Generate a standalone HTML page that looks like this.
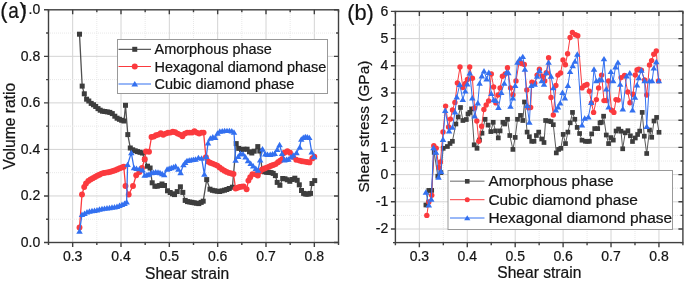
<!DOCTYPE html>
<html><head><meta charset="utf-8"><style>
html,body{margin:0;padding:0;background:#fff;overflow:hidden}
svg{display:block;will-change:transform;filter:blur(0.3px)}
text{font-family:"Liberation Sans", sans-serif;fill:#141414;stroke:#141414;stroke-width:0.22px}
</style></head><body>
<svg width="685" height="281" viewBox="0 0 685 281">
<rect width="685" height="281" fill="#fff"/>
<line x1="72.67" y1="9.8" x2="72.67" y2="242.5" stroke="#d4d4d4" stroke-width="1"/>
<line x1="121.00" y1="9.8" x2="121.00" y2="242.5" stroke="#d4d4d4" stroke-width="1"/>
<line x1="169.33" y1="9.8" x2="169.33" y2="242.5" stroke="#d4d4d4" stroke-width="1"/>
<line x1="217.67" y1="9.8" x2="217.67" y2="242.5" stroke="#d4d4d4" stroke-width="1"/>
<line x1="266.00" y1="9.8" x2="266.00" y2="242.5" stroke="#d4d4d4" stroke-width="1"/>
<line x1="314.33" y1="9.8" x2="314.33" y2="242.5" stroke="#d4d4d4" stroke-width="1"/>
<line x1="96.83" y1="9" x2="96.83" y2="242.5" stroke="#e8e8e8" stroke-width="1" stroke-dasharray="1 1"/>
<line x1="145.17" y1="9" x2="145.17" y2="242.5" stroke="#e8e8e8" stroke-width="1" stroke-dasharray="1 1"/>
<line x1="193.50" y1="9" x2="193.50" y2="242.5" stroke="#e8e8e8" stroke-width="1" stroke-dasharray="1 1"/>
<line x1="241.83" y1="9" x2="241.83" y2="242.5" stroke="#e8e8e8" stroke-width="1" stroke-dasharray="1 1"/>
<line x1="290.17" y1="9" x2="290.17" y2="242.5" stroke="#e8e8e8" stroke-width="1" stroke-dasharray="1 1"/>
<line x1="48.5" y1="195.96" x2="338.5" y2="195.96" stroke="#d4d4d4" stroke-width="1"/>
<line x1="48.5" y1="149.42" x2="338.5" y2="149.42" stroke="#d4d4d4" stroke-width="1"/>
<line x1="48.5" y1="102.88" x2="338.5" y2="102.88" stroke="#d4d4d4" stroke-width="1"/>
<line x1="48.5" y1="56.34" x2="338.5" y2="56.34" stroke="#d4d4d4" stroke-width="1"/>
<line x1="48" y1="219.23" x2="338.5" y2="219.23" stroke="#e8e8e8" stroke-width="1" stroke-dasharray="1 1"/>
<line x1="48" y1="172.69" x2="338.5" y2="172.69" stroke="#e8e8e8" stroke-width="1" stroke-dasharray="1 1"/>
<line x1="48" y1="126.15" x2="338.5" y2="126.15" stroke="#e8e8e8" stroke-width="1" stroke-dasharray="1 1"/>
<line x1="48" y1="79.61" x2="338.5" y2="79.61" stroke="#e8e8e8" stroke-width="1" stroke-dasharray="1 1"/>
<line x1="48" y1="33.07" x2="338.5" y2="33.07" stroke="#e8e8e8" stroke-width="1" stroke-dasharray="1 1"/>
<line x1="419.36" y1="11.4" x2="419.36" y2="242.6" stroke="#d4d4d4" stroke-width="1"/>
<line x1="467.27" y1="11.4" x2="467.27" y2="242.6" stroke="#d4d4d4" stroke-width="1"/>
<line x1="515.19" y1="11.4" x2="515.19" y2="242.6" stroke="#d4d4d4" stroke-width="1"/>
<line x1="563.11" y1="11.4" x2="563.11" y2="242.6" stroke="#d4d4d4" stroke-width="1"/>
<line x1="611.02" y1="11.4" x2="611.02" y2="242.6" stroke="#d4d4d4" stroke-width="1"/>
<line x1="658.94" y1="11.4" x2="658.94" y2="242.6" stroke="#d4d4d4" stroke-width="1"/>
<line x1="443.32" y1="11" x2="443.32" y2="242.6" stroke="#e8e8e8" stroke-width="1" stroke-dasharray="1 1"/>
<line x1="491.23" y1="11" x2="491.23" y2="242.6" stroke="#e8e8e8" stroke-width="1" stroke-dasharray="1 1"/>
<line x1="539.15" y1="11" x2="539.15" y2="242.6" stroke="#e8e8e8" stroke-width="1" stroke-dasharray="1 1"/>
<line x1="587.07" y1="11" x2="587.07" y2="242.6" stroke="#e8e8e8" stroke-width="1" stroke-dasharray="1 1"/>
<line x1="634.98" y1="11" x2="634.98" y2="242.6" stroke="#e8e8e8" stroke-width="1" stroke-dasharray="1 1"/>
<line x1="395.4" y1="229.00" x2="682.9" y2="229.00" stroke="#d4d4d4" stroke-width="1"/>
<line x1="395.4" y1="201.80" x2="682.9" y2="201.80" stroke="#d4d4d4" stroke-width="1"/>
<line x1="395.4" y1="174.60" x2="682.9" y2="174.60" stroke="#d4d4d4" stroke-width="1"/>
<line x1="395.4" y1="147.40" x2="682.9" y2="147.40" stroke="#d4d4d4" stroke-width="1"/>
<line x1="395.4" y1="120.20" x2="682.9" y2="120.20" stroke="#d4d4d4" stroke-width="1"/>
<line x1="395.4" y1="93.00" x2="682.9" y2="93.00" stroke="#d4d4d4" stroke-width="1"/>
<line x1="395.4" y1="65.80" x2="682.9" y2="65.80" stroke="#d4d4d4" stroke-width="1"/>
<line x1="395.4" y1="38.60" x2="682.9" y2="38.60" stroke="#d4d4d4" stroke-width="1"/>
<line x1="395" y1="215.40" x2="682.9" y2="215.40" stroke="#e8e8e8" stroke-width="1" stroke-dasharray="1 1"/>
<line x1="395" y1="188.20" x2="682.9" y2="188.20" stroke="#e8e8e8" stroke-width="1" stroke-dasharray="1 1"/>
<line x1="395" y1="161.00" x2="682.9" y2="161.00" stroke="#e8e8e8" stroke-width="1" stroke-dasharray="1 1"/>
<line x1="395" y1="133.80" x2="682.9" y2="133.80" stroke="#e8e8e8" stroke-width="1" stroke-dasharray="1 1"/>
<line x1="395" y1="106.60" x2="682.9" y2="106.60" stroke="#e8e8e8" stroke-width="1" stroke-dasharray="1 1"/>
<line x1="395" y1="79.40" x2="682.9" y2="79.40" stroke="#e8e8e8" stroke-width="1" stroke-dasharray="1 1"/>
<line x1="395" y1="52.20" x2="682.9" y2="52.20" stroke="#e8e8e8" stroke-width="1" stroke-dasharray="1 1"/>
<line x1="395" y1="25.00" x2="682.9" y2="25.00" stroke="#e8e8e8" stroke-width="1" stroke-dasharray="1 1"/>
<path d="M79.50 34.20 L82.20 86.10 L84.30 93.80 L86.60 99.20 L88.80 101.00 L91.20 103.40 L93.50 104.80 L95.70 106.50 L98.00 108.60 L100.20 110.20 L102.50 111.20 L104.80 111.50 L107.30 111.90 L109.80 112.40 L112.30 113.60 L114.80 116.20 L117.10 118.20 L119.40 119.30 L121.70 120.30 L124.00 121.00 L125.50 105.30 L127.80 134.60 L130.30 148.00 L132.70 149.80 L135.20 150.80 L137.50 151.60 L140.00 152.30 L142.40 153.00 L144.70 159.30 L147.50 166.20 L150.10 168.00 L152.20 182.80 L154.90 186.30 L157.30 186.20 L159.60 185.50 L162.00 184.00 L164.50 185.50 L167.50 190.80 L170.20 192.50 L172.50 193.80 L174.50 194.60 L177.20 191.60 L180.40 186.80 L182.80 192.40 L185.20 200.40 L187.50 201.60 L189.80 202.00 L192.00 202.40 L194.20 202.80 L196.50 203.20 L198.80 203.60 L201.20 202.40 L203.20 201.20 L206.70 179.60 L210.00 189.20 L212.40 190.30 L214.80 190.80 L217.20 191.20 L219.70 191.50 L222.10 190.80 L224.50 190.20 L226.80 189.50 L229.20 188.50 L232.40 187.20 L236.20 143.60 L238.80 148.40 L241.50 149.50 L244.00 149.20 L247.10 149.20 L249.50 151.80 L251.80 153.00 L254.20 151.20 L257.80 146.60 L259.80 151.00 L262.20 170.60 L264.50 171.80 L266.70 172.30 L268.90 172.40 L271.10 172.60 L273.20 173.40 L275.40 175.60 L277.20 182.40 L279.90 185.30 L282.70 178.50 L285.00 178.80 L287.30 179.80 L289.80 181.30 L292.30 179.50 L294.80 178.20 L297.20 180.30 L299.30 184.80 L301.50 190.50 L303.60 193.40 L305.30 194.00 L307.00 194.10 L308.80 194.00 L310.50 193.40 L312.00 183.50 L314.70 180.60" fill="none" stroke="#505050" stroke-width="1.3" stroke-linejoin="round"/>
<rect x="77.00" y="31.70" width="5.0" height="5.0" fill="#3d3d3d"/>
<rect x="79.70" y="83.60" width="5.0" height="5.0" fill="#3d3d3d"/>
<rect x="81.80" y="91.30" width="5.0" height="5.0" fill="#3d3d3d"/>
<rect x="84.10" y="96.70" width="5.0" height="5.0" fill="#3d3d3d"/>
<rect x="86.30" y="98.50" width="5.0" height="5.0" fill="#3d3d3d"/>
<rect x="88.70" y="100.90" width="5.0" height="5.0" fill="#3d3d3d"/>
<rect x="91.00" y="102.30" width="5.0" height="5.0" fill="#3d3d3d"/>
<rect x="93.20" y="104.00" width="5.0" height="5.0" fill="#3d3d3d"/>
<rect x="95.50" y="106.10" width="5.0" height="5.0" fill="#3d3d3d"/>
<rect x="97.70" y="107.70" width="5.0" height="5.0" fill="#3d3d3d"/>
<rect x="100.00" y="108.70" width="5.0" height="5.0" fill="#3d3d3d"/>
<rect x="102.30" y="109.00" width="5.0" height="5.0" fill="#3d3d3d"/>
<rect x="104.80" y="109.40" width="5.0" height="5.0" fill="#3d3d3d"/>
<rect x="107.30" y="109.90" width="5.0" height="5.0" fill="#3d3d3d"/>
<rect x="109.80" y="111.10" width="5.0" height="5.0" fill="#3d3d3d"/>
<rect x="112.30" y="113.70" width="5.0" height="5.0" fill="#3d3d3d"/>
<rect x="114.60" y="115.70" width="5.0" height="5.0" fill="#3d3d3d"/>
<rect x="116.90" y="116.80" width="5.0" height="5.0" fill="#3d3d3d"/>
<rect x="119.20" y="117.80" width="5.0" height="5.0" fill="#3d3d3d"/>
<rect x="121.50" y="118.50" width="5.0" height="5.0" fill="#3d3d3d"/>
<rect x="123.00" y="102.80" width="5.0" height="5.0" fill="#3d3d3d"/>
<rect x="125.30" y="132.10" width="5.0" height="5.0" fill="#3d3d3d"/>
<rect x="127.80" y="145.50" width="5.0" height="5.0" fill="#3d3d3d"/>
<rect x="130.20" y="147.30" width="5.0" height="5.0" fill="#3d3d3d"/>
<rect x="132.70" y="148.30" width="5.0" height="5.0" fill="#3d3d3d"/>
<rect x="135.00" y="149.10" width="5.0" height="5.0" fill="#3d3d3d"/>
<rect x="137.50" y="149.80" width="5.0" height="5.0" fill="#3d3d3d"/>
<rect x="139.90" y="150.50" width="5.0" height="5.0" fill="#3d3d3d"/>
<rect x="142.20" y="156.80" width="5.0" height="5.0" fill="#3d3d3d"/>
<rect x="145.00" y="163.70" width="5.0" height="5.0" fill="#3d3d3d"/>
<rect x="147.60" y="165.50" width="5.0" height="5.0" fill="#3d3d3d"/>
<rect x="149.70" y="180.30" width="5.0" height="5.0" fill="#3d3d3d"/>
<rect x="152.40" y="183.80" width="5.0" height="5.0" fill="#3d3d3d"/>
<rect x="154.80" y="183.70" width="5.0" height="5.0" fill="#3d3d3d"/>
<rect x="157.10" y="183.00" width="5.0" height="5.0" fill="#3d3d3d"/>
<rect x="159.50" y="181.50" width="5.0" height="5.0" fill="#3d3d3d"/>
<rect x="162.00" y="183.00" width="5.0" height="5.0" fill="#3d3d3d"/>
<rect x="165.00" y="188.30" width="5.0" height="5.0" fill="#3d3d3d"/>
<rect x="167.70" y="190.00" width="5.0" height="5.0" fill="#3d3d3d"/>
<rect x="170.00" y="191.30" width="5.0" height="5.0" fill="#3d3d3d"/>
<rect x="172.00" y="192.10" width="5.0" height="5.0" fill="#3d3d3d"/>
<rect x="174.70" y="189.10" width="5.0" height="5.0" fill="#3d3d3d"/>
<rect x="177.90" y="184.30" width="5.0" height="5.0" fill="#3d3d3d"/>
<rect x="180.30" y="189.90" width="5.0" height="5.0" fill="#3d3d3d"/>
<rect x="182.70" y="197.90" width="5.0" height="5.0" fill="#3d3d3d"/>
<rect x="185.00" y="199.10" width="5.0" height="5.0" fill="#3d3d3d"/>
<rect x="187.30" y="199.50" width="5.0" height="5.0" fill="#3d3d3d"/>
<rect x="189.50" y="199.90" width="5.0" height="5.0" fill="#3d3d3d"/>
<rect x="191.70" y="200.30" width="5.0" height="5.0" fill="#3d3d3d"/>
<rect x="194.00" y="200.70" width="5.0" height="5.0" fill="#3d3d3d"/>
<rect x="196.30" y="201.10" width="5.0" height="5.0" fill="#3d3d3d"/>
<rect x="198.70" y="199.90" width="5.0" height="5.0" fill="#3d3d3d"/>
<rect x="200.70" y="198.70" width="5.0" height="5.0" fill="#3d3d3d"/>
<rect x="204.20" y="177.10" width="5.0" height="5.0" fill="#3d3d3d"/>
<rect x="207.50" y="186.70" width="5.0" height="5.0" fill="#3d3d3d"/>
<rect x="209.90" y="187.80" width="5.0" height="5.0" fill="#3d3d3d"/>
<rect x="212.30" y="188.30" width="5.0" height="5.0" fill="#3d3d3d"/>
<rect x="214.70" y="188.70" width="5.0" height="5.0" fill="#3d3d3d"/>
<rect x="217.20" y="189.00" width="5.0" height="5.0" fill="#3d3d3d"/>
<rect x="219.60" y="188.30" width="5.0" height="5.0" fill="#3d3d3d"/>
<rect x="222.00" y="187.70" width="5.0" height="5.0" fill="#3d3d3d"/>
<rect x="224.30" y="187.00" width="5.0" height="5.0" fill="#3d3d3d"/>
<rect x="226.70" y="186.00" width="5.0" height="5.0" fill="#3d3d3d"/>
<rect x="229.90" y="184.70" width="5.0" height="5.0" fill="#3d3d3d"/>
<rect x="233.70" y="141.10" width="5.0" height="5.0" fill="#3d3d3d"/>
<rect x="236.30" y="145.90" width="5.0" height="5.0" fill="#3d3d3d"/>
<rect x="239.00" y="147.00" width="5.0" height="5.0" fill="#3d3d3d"/>
<rect x="241.50" y="146.70" width="5.0" height="5.0" fill="#3d3d3d"/>
<rect x="244.60" y="146.70" width="5.0" height="5.0" fill="#3d3d3d"/>
<rect x="247.00" y="149.30" width="5.0" height="5.0" fill="#3d3d3d"/>
<rect x="249.30" y="150.50" width="5.0" height="5.0" fill="#3d3d3d"/>
<rect x="251.70" y="148.70" width="5.0" height="5.0" fill="#3d3d3d"/>
<rect x="255.30" y="144.10" width="5.0" height="5.0" fill="#3d3d3d"/>
<rect x="257.30" y="148.50" width="5.0" height="5.0" fill="#3d3d3d"/>
<rect x="259.70" y="168.10" width="5.0" height="5.0" fill="#3d3d3d"/>
<rect x="262.00" y="169.30" width="5.0" height="5.0" fill="#3d3d3d"/>
<rect x="264.20" y="169.80" width="5.0" height="5.0" fill="#3d3d3d"/>
<rect x="266.40" y="169.90" width="5.0" height="5.0" fill="#3d3d3d"/>
<rect x="268.60" y="170.10" width="5.0" height="5.0" fill="#3d3d3d"/>
<rect x="270.70" y="170.90" width="5.0" height="5.0" fill="#3d3d3d"/>
<rect x="272.90" y="173.10" width="5.0" height="5.0" fill="#3d3d3d"/>
<rect x="274.70" y="179.90" width="5.0" height="5.0" fill="#3d3d3d"/>
<rect x="277.40" y="182.80" width="5.0" height="5.0" fill="#3d3d3d"/>
<rect x="280.20" y="176.00" width="5.0" height="5.0" fill="#3d3d3d"/>
<rect x="282.50" y="176.30" width="5.0" height="5.0" fill="#3d3d3d"/>
<rect x="284.80" y="177.30" width="5.0" height="5.0" fill="#3d3d3d"/>
<rect x="287.30" y="178.80" width="5.0" height="5.0" fill="#3d3d3d"/>
<rect x="289.80" y="177.00" width="5.0" height="5.0" fill="#3d3d3d"/>
<rect x="292.30" y="175.70" width="5.0" height="5.0" fill="#3d3d3d"/>
<rect x="294.70" y="177.80" width="5.0" height="5.0" fill="#3d3d3d"/>
<rect x="296.80" y="182.30" width="5.0" height="5.0" fill="#3d3d3d"/>
<rect x="299.00" y="188.00" width="5.0" height="5.0" fill="#3d3d3d"/>
<rect x="301.10" y="190.90" width="5.0" height="5.0" fill="#3d3d3d"/>
<rect x="302.80" y="191.50" width="5.0" height="5.0" fill="#3d3d3d"/>
<rect x="304.50" y="191.60" width="5.0" height="5.0" fill="#3d3d3d"/>
<rect x="306.30" y="191.50" width="5.0" height="5.0" fill="#3d3d3d"/>
<rect x="308.00" y="190.90" width="5.0" height="5.0" fill="#3d3d3d"/>
<rect x="309.50" y="181.00" width="5.0" height="5.0" fill="#3d3d3d"/>
<rect x="312.20" y="178.10" width="5.0" height="5.0" fill="#3d3d3d"/>
<path d="M79.50 227.50 L82.00 194.50 L84.20 187.00 L86.00 183.50 L88.30 181.00 L90.50 179.50 L92.80 178.20 L95.00 177.00 L97.20 175.80 L99.40 174.80 L101.60 173.60 L103.80 173.00 L106.00 172.60 L108.30 172.20 L110.60 171.80 L112.90 171.00 L115.20 170.20 L117.50 169.20 L119.80 168.20 L122.10 167.40 L123.80 166.80 L125.50 186.00 L128.70 194.50 L133.00 186.00 L136.20 175.30 L139.40 172.10 L142.00 168.00 L144.70 159.30 L146.00 151.50 L149.00 151.80 L151.50 137.00 L153.80 136.60 L156.00 135.20 L158.40 134.60 L160.80 133.20 L163.20 134.80 L165.60 133.60 L168.00 132.80 L170.40 132.60 L172.80 131.80 L175.20 132.20 L177.60 133.60 L180.00 134.60 L182.40 136.20 L184.80 133.60 L187.20 132.60 L189.60 132.60 L192.00 132.60 L194.40 131.20 L196.80 132.60 L199.20 133.60 L201.60 132.60 L203.60 132.60 L205.90 157.10 L208.00 161.50 L210.20 162.80 L212.60 163.60 L215.00 164.60 L217.30 165.60 L219.60 167.40 L222.00 169.20 L224.40 170.80 L226.80 171.90 L229.20 172.90 L231.50 173.50 L233.50 174.00 L235.60 188.60 L237.60 187.80 L239.60 187.00 L241.60 186.60 L243.60 186.40 L246.60 189.20 L248.40 180.60 L250.20 177.20 L252.40 174.10 L255.60 174.20 L257.80 175.50 L260.00 171.50 L262.20 169.40 L264.50 168.50 L266.70 167.60 L269.00 166.70 L271.10 165.80 L273.30 165.00 L275.60 164.10 L278.00 162.30 L280.20 160.70 L282.40 158.90 L284.40 152.80 L287.40 151.20 L290.00 152.80 L293.00 156.80 L296.20 159.80 L299.50 160.60 L302.00 161.20 L304.50 161.60 L307.00 162.00 L309.50 162.40 L312.30 158.40 L314.30 156.80" fill="none" stroke="#fb3a3e" stroke-width="1.3" stroke-linejoin="round"/>
<circle cx="79.50" cy="227.50" r="2.95" fill="#fb3a3e"/>
<circle cx="82.00" cy="194.50" r="2.95" fill="#fb3a3e"/>
<circle cx="84.20" cy="187.00" r="2.95" fill="#fb3a3e"/>
<circle cx="86.00" cy="183.50" r="2.95" fill="#fb3a3e"/>
<circle cx="88.30" cy="181.00" r="2.95" fill="#fb3a3e"/>
<circle cx="90.50" cy="179.50" r="2.95" fill="#fb3a3e"/>
<circle cx="92.80" cy="178.20" r="2.95" fill="#fb3a3e"/>
<circle cx="95.00" cy="177.00" r="2.95" fill="#fb3a3e"/>
<circle cx="97.20" cy="175.80" r="2.95" fill="#fb3a3e"/>
<circle cx="99.40" cy="174.80" r="2.95" fill="#fb3a3e"/>
<circle cx="101.60" cy="173.60" r="2.95" fill="#fb3a3e"/>
<circle cx="103.80" cy="173.00" r="2.95" fill="#fb3a3e"/>
<circle cx="106.00" cy="172.60" r="2.95" fill="#fb3a3e"/>
<circle cx="108.30" cy="172.20" r="2.95" fill="#fb3a3e"/>
<circle cx="110.60" cy="171.80" r="2.95" fill="#fb3a3e"/>
<circle cx="112.90" cy="171.00" r="2.95" fill="#fb3a3e"/>
<circle cx="115.20" cy="170.20" r="2.95" fill="#fb3a3e"/>
<circle cx="117.50" cy="169.20" r="2.95" fill="#fb3a3e"/>
<circle cx="119.80" cy="168.20" r="2.95" fill="#fb3a3e"/>
<circle cx="122.10" cy="167.40" r="2.95" fill="#fb3a3e"/>
<circle cx="123.80" cy="166.80" r="2.95" fill="#fb3a3e"/>
<circle cx="125.50" cy="186.00" r="2.95" fill="#fb3a3e"/>
<circle cx="128.70" cy="194.50" r="2.95" fill="#fb3a3e"/>
<circle cx="133.00" cy="186.00" r="2.95" fill="#fb3a3e"/>
<circle cx="136.20" cy="175.30" r="2.95" fill="#fb3a3e"/>
<circle cx="139.40" cy="172.10" r="2.95" fill="#fb3a3e"/>
<circle cx="142.00" cy="168.00" r="2.95" fill="#fb3a3e"/>
<circle cx="144.70" cy="159.30" r="2.95" fill="#fb3a3e"/>
<circle cx="146.00" cy="151.50" r="2.95" fill="#fb3a3e"/>
<circle cx="149.00" cy="151.80" r="2.95" fill="#fb3a3e"/>
<circle cx="151.50" cy="137.00" r="2.95" fill="#fb3a3e"/>
<circle cx="153.80" cy="136.60" r="2.95" fill="#fb3a3e"/>
<circle cx="156.00" cy="135.20" r="2.95" fill="#fb3a3e"/>
<circle cx="158.40" cy="134.60" r="2.95" fill="#fb3a3e"/>
<circle cx="160.80" cy="133.20" r="2.95" fill="#fb3a3e"/>
<circle cx="163.20" cy="134.80" r="2.95" fill="#fb3a3e"/>
<circle cx="165.60" cy="133.60" r="2.95" fill="#fb3a3e"/>
<circle cx="168.00" cy="132.80" r="2.95" fill="#fb3a3e"/>
<circle cx="170.40" cy="132.60" r="2.95" fill="#fb3a3e"/>
<circle cx="172.80" cy="131.80" r="2.95" fill="#fb3a3e"/>
<circle cx="175.20" cy="132.20" r="2.95" fill="#fb3a3e"/>
<circle cx="177.60" cy="133.60" r="2.95" fill="#fb3a3e"/>
<circle cx="180.00" cy="134.60" r="2.95" fill="#fb3a3e"/>
<circle cx="182.40" cy="136.20" r="2.95" fill="#fb3a3e"/>
<circle cx="184.80" cy="133.60" r="2.95" fill="#fb3a3e"/>
<circle cx="187.20" cy="132.60" r="2.95" fill="#fb3a3e"/>
<circle cx="189.60" cy="132.60" r="2.95" fill="#fb3a3e"/>
<circle cx="192.00" cy="132.60" r="2.95" fill="#fb3a3e"/>
<circle cx="194.40" cy="131.20" r="2.95" fill="#fb3a3e"/>
<circle cx="196.80" cy="132.60" r="2.95" fill="#fb3a3e"/>
<circle cx="199.20" cy="133.60" r="2.95" fill="#fb3a3e"/>
<circle cx="201.60" cy="132.60" r="2.95" fill="#fb3a3e"/>
<circle cx="203.60" cy="132.60" r="2.95" fill="#fb3a3e"/>
<circle cx="205.90" cy="157.10" r="2.95" fill="#fb3a3e"/>
<circle cx="208.00" cy="161.50" r="2.95" fill="#fb3a3e"/>
<circle cx="210.20" cy="162.80" r="2.95" fill="#fb3a3e"/>
<circle cx="212.60" cy="163.60" r="2.95" fill="#fb3a3e"/>
<circle cx="215.00" cy="164.60" r="2.95" fill="#fb3a3e"/>
<circle cx="217.30" cy="165.60" r="2.95" fill="#fb3a3e"/>
<circle cx="219.60" cy="167.40" r="2.95" fill="#fb3a3e"/>
<circle cx="222.00" cy="169.20" r="2.95" fill="#fb3a3e"/>
<circle cx="224.40" cy="170.80" r="2.95" fill="#fb3a3e"/>
<circle cx="226.80" cy="171.90" r="2.95" fill="#fb3a3e"/>
<circle cx="229.20" cy="172.90" r="2.95" fill="#fb3a3e"/>
<circle cx="231.50" cy="173.50" r="2.95" fill="#fb3a3e"/>
<circle cx="233.50" cy="174.00" r="2.95" fill="#fb3a3e"/>
<circle cx="235.60" cy="188.60" r="2.95" fill="#fb3a3e"/>
<circle cx="237.60" cy="187.80" r="2.95" fill="#fb3a3e"/>
<circle cx="239.60" cy="187.00" r="2.95" fill="#fb3a3e"/>
<circle cx="241.60" cy="186.60" r="2.95" fill="#fb3a3e"/>
<circle cx="243.60" cy="186.40" r="2.95" fill="#fb3a3e"/>
<circle cx="246.60" cy="189.20" r="2.95" fill="#fb3a3e"/>
<circle cx="248.40" cy="180.60" r="2.95" fill="#fb3a3e"/>
<circle cx="250.20" cy="177.20" r="2.95" fill="#fb3a3e"/>
<circle cx="252.40" cy="174.10" r="2.95" fill="#fb3a3e"/>
<circle cx="255.60" cy="174.20" r="2.95" fill="#fb3a3e"/>
<circle cx="257.80" cy="175.50" r="2.95" fill="#fb3a3e"/>
<circle cx="260.00" cy="171.50" r="2.95" fill="#fb3a3e"/>
<circle cx="262.20" cy="169.40" r="2.95" fill="#fb3a3e"/>
<circle cx="264.50" cy="168.50" r="2.95" fill="#fb3a3e"/>
<circle cx="266.70" cy="167.60" r="2.95" fill="#fb3a3e"/>
<circle cx="269.00" cy="166.70" r="2.95" fill="#fb3a3e"/>
<circle cx="271.10" cy="165.80" r="2.95" fill="#fb3a3e"/>
<circle cx="273.30" cy="165.00" r="2.95" fill="#fb3a3e"/>
<circle cx="275.60" cy="164.10" r="2.95" fill="#fb3a3e"/>
<circle cx="278.00" cy="162.30" r="2.95" fill="#fb3a3e"/>
<circle cx="280.20" cy="160.70" r="2.95" fill="#fb3a3e"/>
<circle cx="282.40" cy="158.90" r="2.95" fill="#fb3a3e"/>
<circle cx="284.40" cy="152.80" r="2.95" fill="#fb3a3e"/>
<circle cx="287.40" cy="151.20" r="2.95" fill="#fb3a3e"/>
<circle cx="290.00" cy="152.80" r="2.95" fill="#fb3a3e"/>
<circle cx="293.00" cy="156.80" r="2.95" fill="#fb3a3e"/>
<circle cx="296.20" cy="159.80" r="2.95" fill="#fb3a3e"/>
<circle cx="299.50" cy="160.60" r="2.95" fill="#fb3a3e"/>
<circle cx="302.00" cy="161.20" r="2.95" fill="#fb3a3e"/>
<circle cx="304.50" cy="161.60" r="2.95" fill="#fb3a3e"/>
<circle cx="307.00" cy="162.00" r="2.95" fill="#fb3a3e"/>
<circle cx="309.50" cy="162.40" r="2.95" fill="#fb3a3e"/>
<circle cx="312.30" cy="158.40" r="2.95" fill="#fb3a3e"/>
<circle cx="314.30" cy="156.80" r="2.95" fill="#fb3a3e"/>
<path d="M79.50 231.30 L82.00 214.50 L84.50 213.50 L87.00 212.00 L89.50 211.30 L92.00 210.80 L94.50 210.50 L97.00 210.00 L99.50 209.20 L102.00 208.80 L104.50 208.40 L107.00 208.00 L109.50 207.70 L112.00 207.30 L114.50 207.00 L117.00 206.50 L119.50 205.50 L122.00 204.50 L124.50 203.50 L126.60 202.00 L127.60 164.60 L131.30 152.80 L134.00 167.80 L136.50 168.50 L139.40 168.90 L142.60 170.00 L144.70 175.30 L147.00 174.70 L149.00 174.20 L151.40 172.70 L153.50 172.50 L155.70 172.00 L158.00 172.30 L160.00 172.70 L162.20 173.80 L164.20 174.90 L167.10 169.20 L169.20 168.50 L171.30 167.80 L173.50 167.00 L175.60 166.30 L178.40 169.20 L180.60 172.70 L183.40 164.90 L185.20 162.50 L187.00 160.60 L189.20 160.20 L191.30 159.90 L193.40 159.50 L195.50 159.20 L198.40 157.60 L201.60 158.20 L204.40 174.30 L206.30 156.50 L208.00 143.00 L210.40 138.20 L212.80 137.00 L215.20 137.60 L217.50 133.20 L219.80 131.20 L222.20 131.00 L224.60 130.60 L227.00 130.60 L229.40 130.60 L231.80 131.00 L234.00 132.20 L235.60 160.40 L238.20 156.50 L240.50 153.50 L243.00 154.00 L245.50 157.00 L248.00 160.80 L250.70 163.50 L253.20 166.00 L255.80 168.50 L258.00 170.20 L260.20 160.00 L262.50 149.00 L265.30 154.00 L267.50 154.50 L270.20 154.50 L272.50 154.00 L274.70 153.50 L277.20 149.50 L279.60 144.80 L282.00 153.60 L284.40 160.00 L286.50 159.50 L288.40 159.20 L290.80 157.00 L293.20 155.20 L296.50 152.80 L299.70 147.20 L301.30 139.20 L303.30 137.50 L305.30 136.80 L307.30 137.00 L309.30 137.60 L311.70 152.00 L314.10 156.80" fill="none" stroke="#3370f0" stroke-width="1.3" stroke-linejoin="round"/>
<path d="M79.50 228.33L82.74 233.73L76.26 233.73Z" fill="#3370f0"/>
<path d="M82.00 211.53L85.24 216.93L78.76 216.93Z" fill="#3370f0"/>
<path d="M84.50 210.53L87.74 215.93L81.26 215.93Z" fill="#3370f0"/>
<path d="M87.00 209.03L90.24 214.43L83.76 214.43Z" fill="#3370f0"/>
<path d="M89.50 208.33L92.74 213.73L86.26 213.73Z" fill="#3370f0"/>
<path d="M92.00 207.83L95.24 213.23L88.76 213.23Z" fill="#3370f0"/>
<path d="M94.50 207.53L97.74 212.93L91.26 212.93Z" fill="#3370f0"/>
<path d="M97.00 207.03L100.24 212.43L93.76 212.43Z" fill="#3370f0"/>
<path d="M99.50 206.23L102.74 211.63L96.26 211.63Z" fill="#3370f0"/>
<path d="M102.00 205.83L105.24 211.23L98.76 211.23Z" fill="#3370f0"/>
<path d="M104.50 205.43L107.74 210.83L101.26 210.83Z" fill="#3370f0"/>
<path d="M107.00 205.03L110.24 210.43L103.76 210.43Z" fill="#3370f0"/>
<path d="M109.50 204.73L112.74 210.13L106.26 210.13Z" fill="#3370f0"/>
<path d="M112.00 204.33L115.24 209.73L108.76 209.73Z" fill="#3370f0"/>
<path d="M114.50 204.03L117.74 209.43L111.26 209.43Z" fill="#3370f0"/>
<path d="M117.00 203.53L120.24 208.93L113.76 208.93Z" fill="#3370f0"/>
<path d="M119.50 202.53L122.74 207.93L116.26 207.93Z" fill="#3370f0"/>
<path d="M122.00 201.53L125.24 206.93L118.76 206.93Z" fill="#3370f0"/>
<path d="M124.50 200.53L127.74 205.93L121.26 205.93Z" fill="#3370f0"/>
<path d="M126.60 199.03L129.84 204.43L123.36 204.43Z" fill="#3370f0"/>
<path d="M127.60 161.63L130.84 167.03L124.36 167.03Z" fill="#3370f0"/>
<path d="M131.30 149.83L134.54 155.23L128.06 155.23Z" fill="#3370f0"/>
<path d="M134.00 164.83L137.24 170.23L130.76 170.23Z" fill="#3370f0"/>
<path d="M136.50 165.53L139.74 170.93L133.26 170.93Z" fill="#3370f0"/>
<path d="M139.40 165.93L142.64 171.33L136.16 171.33Z" fill="#3370f0"/>
<path d="M142.60 167.03L145.84 172.43L139.36 172.43Z" fill="#3370f0"/>
<path d="M144.70 172.33L147.94 177.73L141.46 177.73Z" fill="#3370f0"/>
<path d="M147.00 171.73L150.24 177.13L143.76 177.13Z" fill="#3370f0"/>
<path d="M149.00 171.23L152.24 176.63L145.76 176.63Z" fill="#3370f0"/>
<path d="M151.40 169.73L154.64 175.13L148.16 175.13Z" fill="#3370f0"/>
<path d="M153.50 169.53L156.74 174.93L150.26 174.93Z" fill="#3370f0"/>
<path d="M155.70 169.03L158.94 174.43L152.46 174.43Z" fill="#3370f0"/>
<path d="M158.00 169.33L161.24 174.73L154.76 174.73Z" fill="#3370f0"/>
<path d="M160.00 169.73L163.24 175.13L156.76 175.13Z" fill="#3370f0"/>
<path d="M162.20 170.83L165.44 176.23L158.96 176.23Z" fill="#3370f0"/>
<path d="M164.20 171.93L167.44 177.33L160.96 177.33Z" fill="#3370f0"/>
<path d="M167.10 166.23L170.34 171.63L163.86 171.63Z" fill="#3370f0"/>
<path d="M169.20 165.53L172.44 170.93L165.96 170.93Z" fill="#3370f0"/>
<path d="M171.30 164.83L174.54 170.23L168.06 170.23Z" fill="#3370f0"/>
<path d="M173.50 164.03L176.74 169.43L170.26 169.43Z" fill="#3370f0"/>
<path d="M175.60 163.33L178.84 168.73L172.36 168.73Z" fill="#3370f0"/>
<path d="M178.40 166.23L181.64 171.63L175.16 171.63Z" fill="#3370f0"/>
<path d="M180.60 169.73L183.84 175.13L177.36 175.13Z" fill="#3370f0"/>
<path d="M183.40 161.93L186.64 167.33L180.16 167.33Z" fill="#3370f0"/>
<path d="M185.20 159.53L188.44 164.93L181.96 164.93Z" fill="#3370f0"/>
<path d="M187.00 157.63L190.24 163.03L183.76 163.03Z" fill="#3370f0"/>
<path d="M189.20 157.23L192.44 162.63L185.96 162.63Z" fill="#3370f0"/>
<path d="M191.30 156.93L194.54 162.33L188.06 162.33Z" fill="#3370f0"/>
<path d="M193.40 156.53L196.64 161.93L190.16 161.93Z" fill="#3370f0"/>
<path d="M195.50 156.23L198.74 161.63L192.26 161.63Z" fill="#3370f0"/>
<path d="M198.40 154.63L201.64 160.03L195.16 160.03Z" fill="#3370f0"/>
<path d="M201.60 155.23L204.84 160.63L198.36 160.63Z" fill="#3370f0"/>
<path d="M204.40 171.33L207.64 176.73L201.16 176.73Z" fill="#3370f0"/>
<path d="M206.30 153.53L209.54 158.93L203.06 158.93Z" fill="#3370f0"/>
<path d="M208.00 140.03L211.24 145.43L204.76 145.43Z" fill="#3370f0"/>
<path d="M210.40 135.23L213.64 140.63L207.16 140.63Z" fill="#3370f0"/>
<path d="M212.80 134.03L216.04 139.43L209.56 139.43Z" fill="#3370f0"/>
<path d="M215.20 134.63L218.44 140.03L211.96 140.03Z" fill="#3370f0"/>
<path d="M217.50 130.23L220.74 135.63L214.26 135.63Z" fill="#3370f0"/>
<path d="M219.80 128.23L223.04 133.63L216.56 133.63Z" fill="#3370f0"/>
<path d="M222.20 128.03L225.44 133.43L218.96 133.43Z" fill="#3370f0"/>
<path d="M224.60 127.63L227.84 133.03L221.36 133.03Z" fill="#3370f0"/>
<path d="M227.00 127.63L230.24 133.03L223.76 133.03Z" fill="#3370f0"/>
<path d="M229.40 127.63L232.64 133.03L226.16 133.03Z" fill="#3370f0"/>
<path d="M231.80 128.03L235.04 133.43L228.56 133.43Z" fill="#3370f0"/>
<path d="M234.00 129.23L237.24 134.63L230.76 134.63Z" fill="#3370f0"/>
<path d="M235.60 157.43L238.84 162.83L232.36 162.83Z" fill="#3370f0"/>
<path d="M238.20 153.53L241.44 158.93L234.96 158.93Z" fill="#3370f0"/>
<path d="M240.50 150.53L243.74 155.93L237.26 155.93Z" fill="#3370f0"/>
<path d="M243.00 151.03L246.24 156.43L239.76 156.43Z" fill="#3370f0"/>
<path d="M245.50 154.03L248.74 159.43L242.26 159.43Z" fill="#3370f0"/>
<path d="M248.00 157.83L251.24 163.23L244.76 163.23Z" fill="#3370f0"/>
<path d="M250.70 160.53L253.94 165.93L247.46 165.93Z" fill="#3370f0"/>
<path d="M253.20 163.03L256.44 168.43L249.96 168.43Z" fill="#3370f0"/>
<path d="M255.80 165.53L259.04 170.93L252.56 170.93Z" fill="#3370f0"/>
<path d="M258.00 167.23L261.24 172.63L254.76 172.63Z" fill="#3370f0"/>
<path d="M260.20 157.03L263.44 162.43L256.96 162.43Z" fill="#3370f0"/>
<path d="M262.50 146.03L265.74 151.43L259.26 151.43Z" fill="#3370f0"/>
<path d="M265.30 151.03L268.54 156.43L262.06 156.43Z" fill="#3370f0"/>
<path d="M267.50 151.53L270.74 156.93L264.26 156.93Z" fill="#3370f0"/>
<path d="M270.20 151.53L273.44 156.93L266.96 156.93Z" fill="#3370f0"/>
<path d="M272.50 151.03L275.74 156.43L269.26 156.43Z" fill="#3370f0"/>
<path d="M274.70 150.53L277.94 155.93L271.46 155.93Z" fill="#3370f0"/>
<path d="M277.20 146.53L280.44 151.93L273.96 151.93Z" fill="#3370f0"/>
<path d="M279.60 141.83L282.84 147.23L276.36 147.23Z" fill="#3370f0"/>
<path d="M282.00 150.63L285.24 156.03L278.76 156.03Z" fill="#3370f0"/>
<path d="M284.40 157.03L287.64 162.43L281.16 162.43Z" fill="#3370f0"/>
<path d="M286.50 156.53L289.74 161.93L283.26 161.93Z" fill="#3370f0"/>
<path d="M288.40 156.23L291.64 161.63L285.16 161.63Z" fill="#3370f0"/>
<path d="M290.80 154.03L294.04 159.43L287.56 159.43Z" fill="#3370f0"/>
<path d="M293.20 152.23L296.44 157.63L289.96 157.63Z" fill="#3370f0"/>
<path d="M296.50 149.83L299.74 155.23L293.26 155.23Z" fill="#3370f0"/>
<path d="M299.70 144.23L302.94 149.63L296.46 149.63Z" fill="#3370f0"/>
<path d="M301.30 136.23L304.54 141.63L298.06 141.63Z" fill="#3370f0"/>
<path d="M303.30 134.53L306.54 139.93L300.06 139.93Z" fill="#3370f0"/>
<path d="M305.30 133.83L308.54 139.23L302.06 139.23Z" fill="#3370f0"/>
<path d="M307.30 134.03L310.54 139.43L304.06 139.43Z" fill="#3370f0"/>
<path d="M309.30 134.63L312.54 140.03L306.06 140.03Z" fill="#3370f0"/>
<path d="M311.70 149.03L314.94 154.43L308.46 154.43Z" fill="#3370f0"/>
<path d="M314.10 153.83L317.34 159.23L310.86 159.23Z" fill="#3370f0"/>
<path d="M425.90 205.00 L428.80 190.40 L431.70 190.40 L434.20 152.40 L437.80 176.20 L440.90 172.60 L443.20 148.30 L447.40 146.50 L450.00 143.50 L452.40 141.30 L455.90 124.00 L458.20 117.00 L460.50 107.50 L462.90 120.50 L466.30 119.50 L468.00 114.00 L469.80 112.40 L471.60 108.90 L474.20 144.80 L477.00 148.30 L479.50 140.00 L482.00 133.20 L485.10 119.30 L488.10 125.10 L490.80 131.60 L493.20 122.30 L495.50 130.90 L498.30 137.90 L500.10 130.90 L502.90 122.30 L504.70 124.00 L507.50 119.30 L509.80 135.50 L512.90 149.40 L515.20 137.40 L517.50 119.30 L520.50 115.40 L522.80 120.50 L524.50 102.00 L527.10 132.10 L529.40 136.70 L531.70 141.30 L534.00 141.30 L536.40 135.50 L538.70 132.10 L541.70 139.00 L544.00 142.50 L545.60 120.50 L548.60 121.00 L551.00 121.60 L553.30 124.70 L556.30 152.90 L558.60 149.40 L560.90 148.30 L563.20 134.40 L565.50 143.60 L567.90 132.10 L570.20 122.80 L572.50 112.40 L574.80 119.30 L577.20 127.40 L579.60 133.50 L582.00 140.20 L585.40 141.30 L587.50 141.30 L589.40 141.30 L591.70 133.90 L594.70 128.60 L597.70 128.60 L600.00 122.80 L601.40 122.30 L603.60 116.20 L606.30 135.00 L608.60 143.60 L610.90 137.60 L613.30 140.10 L616.10 131.00 L618.60 129.00 L621.00 131.20 L622.70 148.80 L625.20 132.80 L627.90 130.70 L630.40 135.80 L632.50 141.50 L635.30 138.00 L637.60 134.50 L639.70 131.10 L642.20 112.40 L644.30 136.20 L646.70 153.50 L649.50 130.00 L651.70 137.30 L654.00 121.00 L656.60 117.40 L659.00 132.30" fill="none" stroke="#5a5a5a" stroke-width="1.0" stroke-linejoin="round"/>
<rect x="423.55" y="202.65" width="4.7" height="4.7" fill="#3d3d3d"/>
<rect x="426.45" y="188.05" width="4.7" height="4.7" fill="#3d3d3d"/>
<rect x="429.35" y="188.05" width="4.7" height="4.7" fill="#3d3d3d"/>
<rect x="431.85" y="150.05" width="4.7" height="4.7" fill="#3d3d3d"/>
<rect x="435.45" y="173.85" width="4.7" height="4.7" fill="#3d3d3d"/>
<rect x="438.55" y="170.25" width="4.7" height="4.7" fill="#3d3d3d"/>
<rect x="440.85" y="145.95" width="4.7" height="4.7" fill="#3d3d3d"/>
<rect x="445.05" y="144.15" width="4.7" height="4.7" fill="#3d3d3d"/>
<rect x="447.65" y="141.15" width="4.7" height="4.7" fill="#3d3d3d"/>
<rect x="450.05" y="138.95" width="4.7" height="4.7" fill="#3d3d3d"/>
<rect x="453.55" y="121.65" width="4.7" height="4.7" fill="#3d3d3d"/>
<rect x="455.85" y="114.65" width="4.7" height="4.7" fill="#3d3d3d"/>
<rect x="458.15" y="105.15" width="4.7" height="4.7" fill="#3d3d3d"/>
<rect x="460.55" y="118.15" width="4.7" height="4.7" fill="#3d3d3d"/>
<rect x="463.95" y="117.15" width="4.7" height="4.7" fill="#3d3d3d"/>
<rect x="465.65" y="111.65" width="4.7" height="4.7" fill="#3d3d3d"/>
<rect x="467.45" y="110.05" width="4.7" height="4.7" fill="#3d3d3d"/>
<rect x="469.25" y="106.55" width="4.7" height="4.7" fill="#3d3d3d"/>
<rect x="471.85" y="142.45" width="4.7" height="4.7" fill="#3d3d3d"/>
<rect x="474.65" y="145.95" width="4.7" height="4.7" fill="#3d3d3d"/>
<rect x="477.15" y="137.65" width="4.7" height="4.7" fill="#3d3d3d"/>
<rect x="479.65" y="130.85" width="4.7" height="4.7" fill="#3d3d3d"/>
<rect x="482.75" y="116.95" width="4.7" height="4.7" fill="#3d3d3d"/>
<rect x="485.75" y="122.75" width="4.7" height="4.7" fill="#3d3d3d"/>
<rect x="488.45" y="129.25" width="4.7" height="4.7" fill="#3d3d3d"/>
<rect x="490.85" y="119.95" width="4.7" height="4.7" fill="#3d3d3d"/>
<rect x="493.15" y="128.55" width="4.7" height="4.7" fill="#3d3d3d"/>
<rect x="495.95" y="135.55" width="4.7" height="4.7" fill="#3d3d3d"/>
<rect x="497.75" y="128.55" width="4.7" height="4.7" fill="#3d3d3d"/>
<rect x="500.55" y="119.95" width="4.7" height="4.7" fill="#3d3d3d"/>
<rect x="502.35" y="121.65" width="4.7" height="4.7" fill="#3d3d3d"/>
<rect x="505.15" y="116.95" width="4.7" height="4.7" fill="#3d3d3d"/>
<rect x="507.45" y="133.15" width="4.7" height="4.7" fill="#3d3d3d"/>
<rect x="510.55" y="147.05" width="4.7" height="4.7" fill="#3d3d3d"/>
<rect x="512.85" y="135.05" width="4.7" height="4.7" fill="#3d3d3d"/>
<rect x="515.15" y="116.95" width="4.7" height="4.7" fill="#3d3d3d"/>
<rect x="518.15" y="113.05" width="4.7" height="4.7" fill="#3d3d3d"/>
<rect x="520.45" y="118.15" width="4.7" height="4.7" fill="#3d3d3d"/>
<rect x="522.15" y="99.65" width="4.7" height="4.7" fill="#3d3d3d"/>
<rect x="524.75" y="129.75" width="4.7" height="4.7" fill="#3d3d3d"/>
<rect x="527.05" y="134.35" width="4.7" height="4.7" fill="#3d3d3d"/>
<rect x="529.35" y="138.95" width="4.7" height="4.7" fill="#3d3d3d"/>
<rect x="531.65" y="138.95" width="4.7" height="4.7" fill="#3d3d3d"/>
<rect x="534.05" y="133.15" width="4.7" height="4.7" fill="#3d3d3d"/>
<rect x="536.35" y="129.75" width="4.7" height="4.7" fill="#3d3d3d"/>
<rect x="539.35" y="136.65" width="4.7" height="4.7" fill="#3d3d3d"/>
<rect x="541.65" y="140.15" width="4.7" height="4.7" fill="#3d3d3d"/>
<rect x="543.25" y="118.15" width="4.7" height="4.7" fill="#3d3d3d"/>
<rect x="546.25" y="118.65" width="4.7" height="4.7" fill="#3d3d3d"/>
<rect x="548.65" y="119.25" width="4.7" height="4.7" fill="#3d3d3d"/>
<rect x="550.95" y="122.35" width="4.7" height="4.7" fill="#3d3d3d"/>
<rect x="553.95" y="150.55" width="4.7" height="4.7" fill="#3d3d3d"/>
<rect x="556.25" y="147.05" width="4.7" height="4.7" fill="#3d3d3d"/>
<rect x="558.55" y="145.95" width="4.7" height="4.7" fill="#3d3d3d"/>
<rect x="560.85" y="132.05" width="4.7" height="4.7" fill="#3d3d3d"/>
<rect x="563.15" y="141.25" width="4.7" height="4.7" fill="#3d3d3d"/>
<rect x="565.55" y="129.75" width="4.7" height="4.7" fill="#3d3d3d"/>
<rect x="567.85" y="120.45" width="4.7" height="4.7" fill="#3d3d3d"/>
<rect x="570.15" y="110.05" width="4.7" height="4.7" fill="#3d3d3d"/>
<rect x="572.45" y="116.95" width="4.7" height="4.7" fill="#3d3d3d"/>
<rect x="574.85" y="125.05" width="4.7" height="4.7" fill="#3d3d3d"/>
<rect x="577.25" y="131.15" width="4.7" height="4.7" fill="#3d3d3d"/>
<rect x="579.65" y="137.85" width="4.7" height="4.7" fill="#3d3d3d"/>
<rect x="583.05" y="138.95" width="4.7" height="4.7" fill="#3d3d3d"/>
<rect x="585.15" y="138.95" width="4.7" height="4.7" fill="#3d3d3d"/>
<rect x="587.05" y="138.95" width="4.7" height="4.7" fill="#3d3d3d"/>
<rect x="589.35" y="131.55" width="4.7" height="4.7" fill="#3d3d3d"/>
<rect x="592.35" y="126.25" width="4.7" height="4.7" fill="#3d3d3d"/>
<rect x="595.35" y="126.25" width="4.7" height="4.7" fill="#3d3d3d"/>
<rect x="597.65" y="120.45" width="4.7" height="4.7" fill="#3d3d3d"/>
<rect x="599.05" y="119.95" width="4.7" height="4.7" fill="#3d3d3d"/>
<rect x="601.25" y="113.85" width="4.7" height="4.7" fill="#3d3d3d"/>
<rect x="603.95" y="132.65" width="4.7" height="4.7" fill="#3d3d3d"/>
<rect x="606.25" y="141.25" width="4.7" height="4.7" fill="#3d3d3d"/>
<rect x="608.55" y="135.25" width="4.7" height="4.7" fill="#3d3d3d"/>
<rect x="610.95" y="137.75" width="4.7" height="4.7" fill="#3d3d3d"/>
<rect x="613.75" y="128.65" width="4.7" height="4.7" fill="#3d3d3d"/>
<rect x="616.25" y="126.65" width="4.7" height="4.7" fill="#3d3d3d"/>
<rect x="618.65" y="128.85" width="4.7" height="4.7" fill="#3d3d3d"/>
<rect x="620.35" y="146.45" width="4.7" height="4.7" fill="#3d3d3d"/>
<rect x="622.85" y="130.45" width="4.7" height="4.7" fill="#3d3d3d"/>
<rect x="625.55" y="128.35" width="4.7" height="4.7" fill="#3d3d3d"/>
<rect x="628.05" y="133.45" width="4.7" height="4.7" fill="#3d3d3d"/>
<rect x="630.15" y="139.15" width="4.7" height="4.7" fill="#3d3d3d"/>
<rect x="632.95" y="135.65" width="4.7" height="4.7" fill="#3d3d3d"/>
<rect x="635.25" y="132.15" width="4.7" height="4.7" fill="#3d3d3d"/>
<rect x="637.35" y="128.75" width="4.7" height="4.7" fill="#3d3d3d"/>
<rect x="639.85" y="110.05" width="4.7" height="4.7" fill="#3d3d3d"/>
<rect x="641.95" y="133.85" width="4.7" height="4.7" fill="#3d3d3d"/>
<rect x="644.35" y="151.15" width="4.7" height="4.7" fill="#3d3d3d"/>
<rect x="647.15" y="127.65" width="4.7" height="4.7" fill="#3d3d3d"/>
<rect x="649.35" y="134.95" width="4.7" height="4.7" fill="#3d3d3d"/>
<rect x="651.65" y="118.65" width="4.7" height="4.7" fill="#3d3d3d"/>
<rect x="654.25" y="115.05" width="4.7" height="4.7" fill="#3d3d3d"/>
<rect x="656.65" y="129.95" width="4.7" height="4.7" fill="#3d3d3d"/>
<path d="M426.80 215.40 L428.80 202.00 L431.70 195.30 L433.80 145.80 L436.20 148.20 L438.80 167.50 L440.40 162.00 L443.00 132.00 L445.60 106.10 L448.60 127.00 L450.40 119.10 L452.50 110.00 L454.90 102.40 L457.40 83.00 L460.00 67.00 L462.90 87.50 L465.50 83.50 L467.40 79.40 L469.70 67.00 L472.40 78.30 L474.60 108.00 L476.80 121.00 L478.80 141.30 L481.60 126.30 L483.90 109.50 L486.20 105.00 L488.60 101.00 L491.30 74.00 L493.60 87.00 L495.90 102.90 L498.00 95.00 L500.10 87.90 L502.40 76.30 L505.20 74.00 L507.50 67.70 L510.50 87.90 L512.90 94.80 L516.00 80.90 L519.10 62.40 L521.40 63.50 L524.30 64.50 L526.80 90.00 L528.50 107.70 L530.60 107.50 L531.90 82.10 L534.70 83.20 L537.10 75.10 L539.40 69.30 L542.40 76.30 L544.70 80.90 L546.30 72.80 L548.60 57.70 L551.00 97.50 L553.30 115.00 L555.90 85.50 L557.90 75.10 L560.60 73.00 L563.00 59.90 L565.40 64.70 L567.60 53.70 L570.10 37.50 L572.40 32.50 L575.50 34.80 L577.80 35.70 L582.00 87.90 L584.70 85.50 L587.00 84.40 L589.40 91.30 L591.50 103.00 L593.60 112.40 L596.40 99.60 L598.60 87.90 L601.60 75.10 L604.00 100.60 L606.30 100.60 L608.60 80.90 L611.60 110.30 L613.90 112.40 L616.00 99.60 L618.20 100.10 L621.10 77.60 L624.50 75.40 L627.80 92.00 L630.00 102.80 L633.00 94.20 L635.30 75.00 L637.00 70.00 L638.80 69.20 L641.40 70.30 L644.60 79.90 L646.70 95.00 L649.50 64.90 L651.60 60.60 L653.80 54.20 L656.30 51.00 L658.50 80.90" fill="none" stroke="#fb3a3e" stroke-width="1.0" stroke-linejoin="round"/>
<circle cx="426.80" cy="215.40" r="2.7" fill="#fb3a3e"/>
<circle cx="428.80" cy="202.00" r="2.7" fill="#fb3a3e"/>
<circle cx="431.70" cy="195.30" r="2.7" fill="#fb3a3e"/>
<circle cx="433.80" cy="145.80" r="2.7" fill="#fb3a3e"/>
<circle cx="436.20" cy="148.20" r="2.7" fill="#fb3a3e"/>
<circle cx="438.80" cy="167.50" r="2.7" fill="#fb3a3e"/>
<circle cx="440.40" cy="162.00" r="2.7" fill="#fb3a3e"/>
<circle cx="443.00" cy="132.00" r="2.7" fill="#fb3a3e"/>
<circle cx="445.60" cy="106.10" r="2.7" fill="#fb3a3e"/>
<circle cx="448.60" cy="127.00" r="2.7" fill="#fb3a3e"/>
<circle cx="450.40" cy="119.10" r="2.7" fill="#fb3a3e"/>
<circle cx="452.50" cy="110.00" r="2.7" fill="#fb3a3e"/>
<circle cx="454.90" cy="102.40" r="2.7" fill="#fb3a3e"/>
<circle cx="457.40" cy="83.00" r="2.7" fill="#fb3a3e"/>
<circle cx="460.00" cy="67.00" r="2.7" fill="#fb3a3e"/>
<circle cx="462.90" cy="87.50" r="2.7" fill="#fb3a3e"/>
<circle cx="465.50" cy="83.50" r="2.7" fill="#fb3a3e"/>
<circle cx="467.40" cy="79.40" r="2.7" fill="#fb3a3e"/>
<circle cx="469.70" cy="67.00" r="2.7" fill="#fb3a3e"/>
<circle cx="472.40" cy="78.30" r="2.7" fill="#fb3a3e"/>
<circle cx="474.60" cy="108.00" r="2.7" fill="#fb3a3e"/>
<circle cx="476.80" cy="121.00" r="2.7" fill="#fb3a3e"/>
<circle cx="478.80" cy="141.30" r="2.7" fill="#fb3a3e"/>
<circle cx="481.60" cy="126.30" r="2.7" fill="#fb3a3e"/>
<circle cx="483.90" cy="109.50" r="2.7" fill="#fb3a3e"/>
<circle cx="486.20" cy="105.00" r="2.7" fill="#fb3a3e"/>
<circle cx="488.60" cy="101.00" r="2.7" fill="#fb3a3e"/>
<circle cx="491.30" cy="74.00" r="2.7" fill="#fb3a3e"/>
<circle cx="493.60" cy="87.00" r="2.7" fill="#fb3a3e"/>
<circle cx="495.90" cy="102.90" r="2.7" fill="#fb3a3e"/>
<circle cx="498.00" cy="95.00" r="2.7" fill="#fb3a3e"/>
<circle cx="500.10" cy="87.90" r="2.7" fill="#fb3a3e"/>
<circle cx="502.40" cy="76.30" r="2.7" fill="#fb3a3e"/>
<circle cx="505.20" cy="74.00" r="2.7" fill="#fb3a3e"/>
<circle cx="507.50" cy="67.70" r="2.7" fill="#fb3a3e"/>
<circle cx="510.50" cy="87.90" r="2.7" fill="#fb3a3e"/>
<circle cx="512.90" cy="94.80" r="2.7" fill="#fb3a3e"/>
<circle cx="516.00" cy="80.90" r="2.7" fill="#fb3a3e"/>
<circle cx="519.10" cy="62.40" r="2.7" fill="#fb3a3e"/>
<circle cx="521.40" cy="63.50" r="2.7" fill="#fb3a3e"/>
<circle cx="524.30" cy="64.50" r="2.7" fill="#fb3a3e"/>
<circle cx="526.80" cy="90.00" r="2.7" fill="#fb3a3e"/>
<circle cx="528.50" cy="107.70" r="2.7" fill="#fb3a3e"/>
<circle cx="530.60" cy="107.50" r="2.7" fill="#fb3a3e"/>
<circle cx="531.90" cy="82.10" r="2.7" fill="#fb3a3e"/>
<circle cx="534.70" cy="83.20" r="2.7" fill="#fb3a3e"/>
<circle cx="537.10" cy="75.10" r="2.7" fill="#fb3a3e"/>
<circle cx="539.40" cy="69.30" r="2.7" fill="#fb3a3e"/>
<circle cx="542.40" cy="76.30" r="2.7" fill="#fb3a3e"/>
<circle cx="544.70" cy="80.90" r="2.7" fill="#fb3a3e"/>
<circle cx="546.30" cy="72.80" r="2.7" fill="#fb3a3e"/>
<circle cx="548.60" cy="57.70" r="2.7" fill="#fb3a3e"/>
<circle cx="551.00" cy="97.50" r="2.7" fill="#fb3a3e"/>
<circle cx="553.30" cy="115.00" r="2.7" fill="#fb3a3e"/>
<circle cx="555.90" cy="85.50" r="2.7" fill="#fb3a3e"/>
<circle cx="557.90" cy="75.10" r="2.7" fill="#fb3a3e"/>
<circle cx="560.60" cy="73.00" r="2.7" fill="#fb3a3e"/>
<circle cx="563.00" cy="59.90" r="2.7" fill="#fb3a3e"/>
<circle cx="565.40" cy="64.70" r="2.7" fill="#fb3a3e"/>
<circle cx="567.60" cy="53.70" r="2.7" fill="#fb3a3e"/>
<circle cx="570.10" cy="37.50" r="2.7" fill="#fb3a3e"/>
<circle cx="572.40" cy="32.50" r="2.7" fill="#fb3a3e"/>
<circle cx="575.50" cy="34.80" r="2.7" fill="#fb3a3e"/>
<circle cx="577.80" cy="35.70" r="2.7" fill="#fb3a3e"/>
<circle cx="582.00" cy="87.90" r="2.7" fill="#fb3a3e"/>
<circle cx="584.70" cy="85.50" r="2.7" fill="#fb3a3e"/>
<circle cx="587.00" cy="84.40" r="2.7" fill="#fb3a3e"/>
<circle cx="589.40" cy="91.30" r="2.7" fill="#fb3a3e"/>
<circle cx="591.50" cy="103.00" r="2.7" fill="#fb3a3e"/>
<circle cx="593.60" cy="112.40" r="2.7" fill="#fb3a3e"/>
<circle cx="596.40" cy="99.60" r="2.7" fill="#fb3a3e"/>
<circle cx="598.60" cy="87.90" r="2.7" fill="#fb3a3e"/>
<circle cx="601.60" cy="75.10" r="2.7" fill="#fb3a3e"/>
<circle cx="604.00" cy="100.60" r="2.7" fill="#fb3a3e"/>
<circle cx="606.30" cy="100.60" r="2.7" fill="#fb3a3e"/>
<circle cx="608.60" cy="80.90" r="2.7" fill="#fb3a3e"/>
<circle cx="611.60" cy="110.30" r="2.7" fill="#fb3a3e"/>
<circle cx="613.90" cy="112.40" r="2.7" fill="#fb3a3e"/>
<circle cx="616.00" cy="99.60" r="2.7" fill="#fb3a3e"/>
<circle cx="618.20" cy="100.10" r="2.7" fill="#fb3a3e"/>
<circle cx="621.10" cy="77.60" r="2.7" fill="#fb3a3e"/>
<circle cx="624.50" cy="75.40" r="2.7" fill="#fb3a3e"/>
<circle cx="627.80" cy="92.00" r="2.7" fill="#fb3a3e"/>
<circle cx="630.00" cy="102.80" r="2.7" fill="#fb3a3e"/>
<circle cx="633.00" cy="94.20" r="2.7" fill="#fb3a3e"/>
<circle cx="635.30" cy="75.00" r="2.7" fill="#fb3a3e"/>
<circle cx="637.00" cy="70.00" r="2.7" fill="#fb3a3e"/>
<circle cx="638.80" cy="69.20" r="2.7" fill="#fb3a3e"/>
<circle cx="641.40" cy="70.30" r="2.7" fill="#fb3a3e"/>
<circle cx="644.60" cy="79.90" r="2.7" fill="#fb3a3e"/>
<circle cx="646.70" cy="95.00" r="2.7" fill="#fb3a3e"/>
<circle cx="649.50" cy="64.90" r="2.7" fill="#fb3a3e"/>
<circle cx="651.60" cy="60.60" r="2.7" fill="#fb3a3e"/>
<circle cx="653.80" cy="54.20" r="2.7" fill="#fb3a3e"/>
<circle cx="656.30" cy="51.00" r="2.7" fill="#fb3a3e"/>
<circle cx="658.50" cy="80.90" r="2.7" fill="#fb3a3e"/>
<path d="M425.90 192.30 L428.80 205.00 L431.30 199.20 L433.50 147.80 L436.00 152.20 L438.50 177.30 L441.00 171.50 L443.00 139.50 L445.20 110.50 L449.10 131.00 L452.40 127.40 L455.00 112.00 L456.80 97.00 L459.80 84.50 L462.80 99.50 L465.30 91.10 L467.30 84.00 L469.80 73.00 L472.30 98.00 L474.60 116.00 L477.80 103.00 L479.60 83.20 L481.80 76.00 L484.00 71.00 L486.60 79.00 L488.80 72.50 L491.30 93.60 L493.60 99.70 L495.80 100.60 L498.50 107.50 L501.30 92.50 L504.30 83.20 L506.60 72.30 L508.40 72.80 L510.50 106.40 L512.90 98.00 L515.20 85.50 L517.50 62.40 L519.80 58.90 L522.80 56.60 L524.90 69.30 L527.10 105.50 L529.40 122.30 L531.30 85.50 L534.70 84.40 L537.10 76.30 L539.40 70.50 L541.70 80.90 L544.00 84.40 L546.30 72.80 L548.60 62.40 L551.00 76.30 L553.30 87.90 L555.90 110.00 L558.00 107.00 L560.20 103.00 L562.50 92.50 L564.90 98.00 L567.90 85.50 L570.10 71.60 L572.70 65.80 L574.90 61.40 L577.30 54.30 L582.00 125.10 L584.70 118.20 L588.40 117.00 L591.20 102.50 L594.00 69.30 L596.30 80.90 L599.30 79.70 L601.60 79.70 L604.00 58.90 L606.30 89.00 L608.60 107.00 L610.90 71.60 L613.20 80.90 L615.50 67.00 L617.90 62.40 L620.20 84.40 L622.80 109.00 L626.60 76.00 L629.80 73.00 L632.50 110.00 L635.00 97.40 L637.00 85.00 L638.80 77.70 L641.40 70.30 L644.60 80.90 L646.70 126.50 L649.50 80.90 L652.10 80.90 L653.80 68.10 L656.30 61.70 L658.90 80.90" fill="none" stroke="#3370f0" stroke-width="1.0" stroke-linejoin="round"/>
<path d="M425.90 189.33L429.14 194.73L422.66 194.73Z" fill="#3370f0"/>
<path d="M428.80 202.03L432.04 207.43L425.56 207.43Z" fill="#3370f0"/>
<path d="M431.30 196.23L434.54 201.63L428.06 201.63Z" fill="#3370f0"/>
<path d="M433.50 144.83L436.74 150.23L430.26 150.23Z" fill="#3370f0"/>
<path d="M436.00 149.23L439.24 154.63L432.76 154.63Z" fill="#3370f0"/>
<path d="M438.50 174.33L441.74 179.73L435.26 179.73Z" fill="#3370f0"/>
<path d="M441.00 168.53L444.24 173.93L437.76 173.93Z" fill="#3370f0"/>
<path d="M443.00 136.53L446.24 141.93L439.76 141.93Z" fill="#3370f0"/>
<path d="M445.20 107.53L448.44 112.93L441.96 112.93Z" fill="#3370f0"/>
<path d="M449.10 128.03L452.34 133.43L445.86 133.43Z" fill="#3370f0"/>
<path d="M452.40 124.43L455.64 129.83L449.16 129.83Z" fill="#3370f0"/>
<path d="M455.00 109.03L458.24 114.43L451.76 114.43Z" fill="#3370f0"/>
<path d="M456.80 94.03L460.04 99.43L453.56 99.43Z" fill="#3370f0"/>
<path d="M459.80 81.53L463.04 86.93L456.56 86.93Z" fill="#3370f0"/>
<path d="M462.80 96.53L466.04 101.93L459.56 101.93Z" fill="#3370f0"/>
<path d="M465.30 88.13L468.54 93.53L462.06 93.53Z" fill="#3370f0"/>
<path d="M467.30 81.03L470.54 86.43L464.06 86.43Z" fill="#3370f0"/>
<path d="M469.80 70.03L473.04 75.43L466.56 75.43Z" fill="#3370f0"/>
<path d="M472.30 95.03L475.54 100.43L469.06 100.43Z" fill="#3370f0"/>
<path d="M474.60 113.03L477.84 118.43L471.36 118.43Z" fill="#3370f0"/>
<path d="M477.80 100.03L481.04 105.43L474.56 105.43Z" fill="#3370f0"/>
<path d="M479.60 80.23L482.84 85.63L476.36 85.63Z" fill="#3370f0"/>
<path d="M481.80 73.03L485.04 78.43L478.56 78.43Z" fill="#3370f0"/>
<path d="M484.00 68.03L487.24 73.43L480.76 73.43Z" fill="#3370f0"/>
<path d="M486.60 76.03L489.84 81.43L483.36 81.43Z" fill="#3370f0"/>
<path d="M488.80 69.53L492.04 74.93L485.56 74.93Z" fill="#3370f0"/>
<path d="M491.30 90.63L494.54 96.03L488.06 96.03Z" fill="#3370f0"/>
<path d="M493.60 96.73L496.84 102.13L490.36 102.13Z" fill="#3370f0"/>
<path d="M495.80 97.63L499.04 103.03L492.56 103.03Z" fill="#3370f0"/>
<path d="M498.50 104.53L501.74 109.93L495.26 109.93Z" fill="#3370f0"/>
<path d="M501.30 89.53L504.54 94.93L498.06 94.93Z" fill="#3370f0"/>
<path d="M504.30 80.23L507.54 85.63L501.06 85.63Z" fill="#3370f0"/>
<path d="M506.60 69.33L509.84 74.73L503.36 74.73Z" fill="#3370f0"/>
<path d="M508.40 69.83L511.64 75.23L505.16 75.23Z" fill="#3370f0"/>
<path d="M510.50 103.43L513.74 108.83L507.26 108.83Z" fill="#3370f0"/>
<path d="M512.90 95.03L516.14 100.43L509.66 100.43Z" fill="#3370f0"/>
<path d="M515.20 82.53L518.44 87.93L511.96 87.93Z" fill="#3370f0"/>
<path d="M517.50 59.43L520.74 64.83L514.26 64.83Z" fill="#3370f0"/>
<path d="M519.80 55.93L523.04 61.33L516.56 61.33Z" fill="#3370f0"/>
<path d="M522.80 53.63L526.04 59.03L519.56 59.03Z" fill="#3370f0"/>
<path d="M524.90 66.33L528.14 71.73L521.66 71.73Z" fill="#3370f0"/>
<path d="M527.10 102.53L530.34 107.93L523.86 107.93Z" fill="#3370f0"/>
<path d="M529.40 119.33L532.64 124.73L526.16 124.73Z" fill="#3370f0"/>
<path d="M531.30 82.53L534.54 87.93L528.06 87.93Z" fill="#3370f0"/>
<path d="M534.70 81.43L537.94 86.83L531.46 86.83Z" fill="#3370f0"/>
<path d="M537.10 73.33L540.34 78.73L533.86 78.73Z" fill="#3370f0"/>
<path d="M539.40 67.53L542.64 72.93L536.16 72.93Z" fill="#3370f0"/>
<path d="M541.70 77.93L544.94 83.33L538.46 83.33Z" fill="#3370f0"/>
<path d="M544.00 81.43L547.24 86.83L540.76 86.83Z" fill="#3370f0"/>
<path d="M546.30 69.83L549.54 75.23L543.06 75.23Z" fill="#3370f0"/>
<path d="M548.60 59.43L551.84 64.83L545.36 64.83Z" fill="#3370f0"/>
<path d="M551.00 73.33L554.24 78.73L547.76 78.73Z" fill="#3370f0"/>
<path d="M553.30 84.93L556.54 90.33L550.06 90.33Z" fill="#3370f0"/>
<path d="M555.90 107.03L559.14 112.43L552.66 112.43Z" fill="#3370f0"/>
<path d="M558.00 104.03L561.24 109.43L554.76 109.43Z" fill="#3370f0"/>
<path d="M560.20 100.03L563.44 105.43L556.96 105.43Z" fill="#3370f0"/>
<path d="M562.50 89.53L565.74 94.93L559.26 94.93Z" fill="#3370f0"/>
<path d="M564.90 95.03L568.14 100.43L561.66 100.43Z" fill="#3370f0"/>
<path d="M567.90 82.53L571.14 87.93L564.66 87.93Z" fill="#3370f0"/>
<path d="M570.10 68.63L573.34 74.03L566.86 74.03Z" fill="#3370f0"/>
<path d="M572.70 62.83L575.94 68.23L569.46 68.23Z" fill="#3370f0"/>
<path d="M574.90 58.43L578.14 63.83L571.66 63.83Z" fill="#3370f0"/>
<path d="M577.30 51.33L580.54 56.73L574.06 56.73Z" fill="#3370f0"/>
<path d="M582.00 122.13L585.24 127.53L578.76 127.53Z" fill="#3370f0"/>
<path d="M584.70 115.23L587.94 120.63L581.46 120.63Z" fill="#3370f0"/>
<path d="M588.40 114.03L591.64 119.43L585.16 119.43Z" fill="#3370f0"/>
<path d="M591.20 99.53L594.44 104.93L587.96 104.93Z" fill="#3370f0"/>
<path d="M594.00 66.33L597.24 71.73L590.76 71.73Z" fill="#3370f0"/>
<path d="M596.30 77.93L599.54 83.33L593.06 83.33Z" fill="#3370f0"/>
<path d="M599.30 76.73L602.54 82.13L596.06 82.13Z" fill="#3370f0"/>
<path d="M601.60 76.73L604.84 82.13L598.36 82.13Z" fill="#3370f0"/>
<path d="M604.00 55.93L607.24 61.33L600.76 61.33Z" fill="#3370f0"/>
<path d="M606.30 86.03L609.54 91.43L603.06 91.43Z" fill="#3370f0"/>
<path d="M608.60 104.03L611.84 109.43L605.36 109.43Z" fill="#3370f0"/>
<path d="M610.90 68.63L614.14 74.03L607.66 74.03Z" fill="#3370f0"/>
<path d="M613.20 77.93L616.44 83.33L609.96 83.33Z" fill="#3370f0"/>
<path d="M615.50 64.03L618.74 69.43L612.26 69.43Z" fill="#3370f0"/>
<path d="M617.90 59.43L621.14 64.83L614.66 64.83Z" fill="#3370f0"/>
<path d="M620.20 81.43L623.44 86.83L616.96 86.83Z" fill="#3370f0"/>
<path d="M622.80 106.03L626.04 111.43L619.56 111.43Z" fill="#3370f0"/>
<path d="M626.60 73.03L629.84 78.43L623.36 78.43Z" fill="#3370f0"/>
<path d="M629.80 70.03L633.04 75.43L626.56 75.43Z" fill="#3370f0"/>
<path d="M632.50 107.03L635.74 112.43L629.26 112.43Z" fill="#3370f0"/>
<path d="M635.00 94.43L638.24 99.83L631.76 99.83Z" fill="#3370f0"/>
<path d="M637.00 82.03L640.24 87.43L633.76 87.43Z" fill="#3370f0"/>
<path d="M638.80 74.73L642.04 80.13L635.56 80.13Z" fill="#3370f0"/>
<path d="M641.40 67.33L644.64 72.73L638.16 72.73Z" fill="#3370f0"/>
<path d="M644.60 77.93L647.84 83.33L641.36 83.33Z" fill="#3370f0"/>
<path d="M646.70 123.53L649.94 128.93L643.46 128.93Z" fill="#3370f0"/>
<path d="M649.50 77.93L652.74 83.33L646.26 83.33Z" fill="#3370f0"/>
<path d="M652.10 77.93L655.34 83.33L648.86 83.33Z" fill="#3370f0"/>
<path d="M653.80 65.13L657.04 70.53L650.56 70.53Z" fill="#3370f0"/>
<path d="M656.30 58.73L659.54 64.13L653.06 64.13Z" fill="#3370f0"/>
<path d="M658.90 77.93L662.14 83.33L655.66 83.33Z" fill="#3370f0"/>
<path d="M72.67 242.5v4.6M72.67 9.8v4.5M121.00 242.5v4.6M121.00 9.8v4.5M169.33 242.5v4.6M169.33 9.8v4.5M217.67 242.5v4.6M217.67 9.8v4.5M266.00 242.5v4.6M266.00 9.8v4.5M314.33 242.5v4.6M314.33 9.8v4.5M48.50 242.5v2.6M48.50 9.8v2.4M96.83 242.5v2.6M96.83 9.8v2.4M145.17 242.5v2.6M145.17 9.8v2.4M193.50 242.5v2.6M193.50 9.8v2.4M241.83 242.5v2.6M241.83 9.8v2.4M290.17 242.5v2.6M290.17 9.8v2.4M338.50 242.5v2.6M338.50 9.8v2.4M48.5 242.50h-4.5M338.5 242.50h-4.5M48.5 195.96h-4.5M338.5 195.96h-4.5M48.5 149.42h-4.5M338.5 149.42h-4.5M48.5 102.88h-4.5M338.5 102.88h-4.5M48.5 56.34h-4.5M338.5 56.34h-4.5M48.5 9.80h-4.5M338.5 9.80h-4.5M48.5 219.23h-2.4M338.5 219.23h-2.4M48.5 172.69h-2.4M338.5 172.69h-2.4M48.5 126.15h-2.4M338.5 126.15h-2.4M48.5 79.61h-2.4M338.5 79.61h-2.4M48.5 33.07h-2.4M338.5 33.07h-2.4" stroke="#404040" stroke-width="1.4" fill="none"/>
<rect x="48.5" y="9.8" width="290.0" height="232.7" fill="none" stroke="#404040" stroke-width="1.4"/>
<path d="M419.36 242.6v4.6M419.36 11.4v4.5M467.27 242.6v4.6M467.27 11.4v4.5M515.19 242.6v4.6M515.19 11.4v4.5M563.11 242.6v4.6M563.11 11.4v4.5M611.02 242.6v4.6M611.02 11.4v4.5M658.94 242.6v4.6M658.94 11.4v4.5M395.40 242.6v2.6M395.40 11.4v2.4M443.32 242.6v2.6M443.32 11.4v2.4M491.23 242.6v2.6M491.23 11.4v2.4M539.15 242.6v2.6M539.15 11.4v2.4M587.07 242.6v2.6M587.07 11.4v2.4M634.98 242.6v2.6M634.98 11.4v2.4M682.90 242.6v2.6M682.90 11.4v2.4M395.4 229.00h-4.5M682.9 229.00h-4.5M395.4 201.80h-4.5M682.9 201.80h-4.5M395.4 174.60h-4.5M682.9 174.60h-4.5M395.4 147.40h-4.5M682.9 147.40h-4.5M395.4 120.20h-4.5M682.9 120.20h-4.5M395.4 93.00h-4.5M682.9 93.00h-4.5M395.4 65.80h-4.5M682.9 65.80h-4.5M395.4 38.60h-4.5M682.9 38.60h-4.5M395.4 11.40h-4.5M682.9 11.40h-4.5M395.4 242.60h-2.4M682.9 242.60h-2.4M395.4 215.40h-2.4M682.9 215.40h-2.4M395.4 188.20h-2.4M682.9 188.20h-2.4M395.4 161.00h-2.4M682.9 161.00h-2.4M395.4 133.80h-2.4M682.9 133.80h-2.4M395.4 106.60h-2.4M682.9 106.60h-2.4M395.4 79.40h-2.4M682.9 79.40h-2.4M395.4 52.20h-2.4M682.9 52.20h-2.4M395.4 25.00h-2.4M682.9 25.00h-2.4" stroke="#404040" stroke-width="1.4" fill="none"/>
<rect x="395.4" y="11.4" width="287.5" height="231.2" fill="none" stroke="#404040" stroke-width="1.4"/>
<text x="72.67" y="260.8" font-size="14" text-anchor="middle" >0.3</text>
<text x="121.00" y="260.8" font-size="14" text-anchor="middle" >0.4</text>
<text x="169.33" y="260.8" font-size="14" text-anchor="middle" >0.5</text>
<text x="217.67" y="260.8" font-size="14" text-anchor="middle" >0.6</text>
<text x="266.00" y="260.8" font-size="14" text-anchor="middle" >0.7</text>
<text x="314.33" y="260.8" font-size="14" text-anchor="middle" >0.8</text>
<text x="40.2" y="246.70" font-size="14" text-anchor="end" >0.0</text>
<text x="40.2" y="200.16" font-size="14" text-anchor="end" >0.2</text>
<text x="40.2" y="153.62" font-size="14" text-anchor="end" >0.4</text>
<text x="40.2" y="107.08" font-size="14" text-anchor="end" >0.6</text>
<text x="40.2" y="60.54" font-size="14" text-anchor="end" >0.8</text>
<text x="40.2" y="14.00" font-size="14" text-anchor="end" >.0</text>
<text x="419.36" y="260.8" font-size="14" text-anchor="middle" >0.3</text>
<text x="467.27" y="260.8" font-size="14" text-anchor="middle" >0.4</text>
<text x="515.19" y="260.8" font-size="14" text-anchor="middle" >0.5</text>
<text x="563.11" y="260.8" font-size="14" text-anchor="middle" >0.6</text>
<text x="611.02" y="260.8" font-size="14" text-anchor="middle" >0.7</text>
<text x="658.94" y="260.8" font-size="14" text-anchor="middle" >0.8</text>
<text x="388.2" y="233.20" font-size="14" text-anchor="end" >-2</text>
<text x="388.2" y="206.00" font-size="14" text-anchor="end" >-1</text>
<text x="388.2" y="178.80" font-size="14" text-anchor="end" >0</text>
<text x="388.2" y="151.60" font-size="14" text-anchor="end" >1</text>
<text x="388.2" y="124.40" font-size="14" text-anchor="end" >2</text>
<text x="388.2" y="97.20" font-size="14" text-anchor="end" >3</text>
<text x="388.2" y="70.00" font-size="14" text-anchor="end" >4</text>
<text x="388.2" y="42.80" font-size="14" text-anchor="end" >5</text>
<text x="388.2" y="15.60" font-size="14" text-anchor="end" >6</text>
<text x="145.0" y="278.6" font-size="15.6" text-anchor="start" >Shear strain</text>
<text x="497.3" y="277.6" font-size="15.6" text-anchor="start" >Shear strain</text>
<text transform="translate(15.3 169.6) rotate(-90)" font-size="15.6">Volume ratio</text>
<text transform="translate(368.8 192.4) rotate(-90)" font-size="15.4">Shear stress (GPa)</text>
<rect x="117.5" y="39.5" width="210" height="54" fill="#fff" stroke="#999" stroke-width="1"/>
<line x1="118.5" y1="49.3" x2="151" y2="49.3" stroke="#5c5c5c" stroke-width="1.3"/>
<rect x="132.25" y="46.80" width="5.0" height="5.0" fill="#3d3d3d"/>
<text x="154.6" y="54.3" font-size="14.45" text-anchor="start" >Amorphous phase</text>
<line x1="118.5" y1="66.5" x2="151" y2="66.5" stroke="#fb3a3e" stroke-width="1.2"/>
<circle cx="134.75" cy="66.50" r="3.0" fill="#fb3a3e"/>
<text x="154.6" y="71.5" font-size="14.45" text-anchor="start" >Hexagonal diamond phase</text>
<line x1="118.5" y1="84.0" x2="151" y2="84.0" stroke="#3370f0" stroke-width="1.15"/>
<path d="M134.75 80.92L138.11 86.52L131.39 86.52Z" fill="#3370f0"/>
<text x="154.6" y="89.0" font-size="14.45" text-anchor="start" >Cubic diamond phase</text>
<rect x="448" y="170.5" width="224.5" height="59" fill="#fff" stroke="#999" stroke-width="1"/>
<line x1="450" y1="181.3" x2="484.5" y2="181.3" stroke="#9a9a9a" stroke-width="1.5"/>
<rect x="464.95" y="179.00" width="4.6" height="4.6" fill="#3d3d3d"/>
<text x="488.4" y="186.3" font-size="15.45" text-anchor="start" >Amorphous phase</text>
<line x1="450" y1="199.7" x2="484.5" y2="199.7" stroke="#fb3a3e" stroke-width="1.0"/>
<circle cx="467.25" cy="199.70" r="2.5" fill="#fb3a3e"/>
<text x="488.4" y="204.7" font-size="15.45" text-anchor="start" >Cubic diamond phase</text>
<line x1="450" y1="218.0" x2="484.5" y2="218.0" stroke="#3370f0" stroke-width="1.0"/>
<path d="M467.25 215.14L470.37 220.34L464.13 220.34Z" fill="#3370f0"/>
<text x="488.4" y="223.0" font-size="15.45" text-anchor="start" >Hexagonal diamond phase</text>
<text x="0.2" y="17.8" font-size="21.8" text-anchor="start" >(</text>
<text transform="translate(8.2 18.3) scale(0.87 1)" font-size="21.8">a</text>
<text x="19.58" y="17.8" font-size="21.8" text-anchor="start" >)</text>
<path d="M24.9 4.9V13.8M24.6 5.1L22.2 7.3" stroke="#141414" stroke-width="1.25" fill="none"/>
<text x="347.2" y="20.0" font-size="21.8" text-anchor="start" >(b)</text>
</svg></body></html>
